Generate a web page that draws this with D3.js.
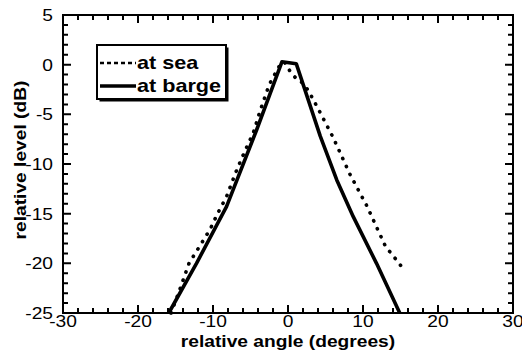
<!DOCTYPE html>
<html>
<head>
<meta charset="utf-8">
<script src="https://cdn.jsdelivr.net/npm/d3@7"></script>
<style>
  body { margin: 0; background: #fff; }
  svg { display: block; font-family: "Liberation Sans", Arial, Helvetica, sans-serif; }
</style>
</head>
<body>
<div id="chart-area"></div>
<script>
const SVG_WIDTH = 522;
const SVG_HEIGHT = 358;
const margin = { left: 63, right: 9, top: 15, bottom: 45 };
const W = SVG_WIDTH - margin.left - margin.right;
const H = SVG_HEIGHT - margin.top - margin.bottom;
const STRETCH = 1.2; // the type in the picture is drawn wide

// angle (degrees), level (dB)
const seaAngle = [-15.6, -14.6, -13.2, -11.8, -10.4, -9.4, -8.2, -7.0, -6.1, -4.6, -3.7, -2.5, -1.2, -0.5, 0.3, 1.2, 2.1, 3.0, 4.2, 6.0, 8.3, 10.5, 13.0, 14.5, 15.4];
const seaLevel = [-25, -23.0, -20.0, -18.3, -16.6, -15.0, -13.3, -10.9, -9.3, -6.8, -4.6, -2.0, -0.2, 0.3, -0.7, -1.5, -1.9, -3.0, -4.7, -7.3, -11.1, -14.2, -18.3, -19.7, -20.6];

const bargeAngle = [-15.9, -12.2, -8.2, -4.2, -0.8, 1.1, 4.3, 6.5, 8.7, 11.8, 14.9];
const bargeLevel = [-25, -20.0, -14.3, -6.6, 0.3, 0.1, -7.2, -11.6, -15.3, -20.0, -25];

const xTicks = [-30, -20, -10, 0, 10, 20, 30];
const yTicks = [5, 0, -5, -10, -15, -20, -25];
const xMinor = d3.range(-30, 31, 2);
const yMinor = d3.range(-25, 6, 1);
const legendNames = ["at sea", "at barge"];

const svg = d3.select("#chart-area").append("svg")
  .attr("width", SVG_WIDTH).attr("height", SVG_HEIGHT);

const x = d3.scaleLinear().domain([-30, 30]).range([margin.left, margin.left + W]);
const y = d3.scaleLinear().domain([-25, 5]).range([margin.top + H, margin.top]);

const line = d3.line().x(d => x(d[0])).y(d => y(d[1]));
const seaData = seaAngle.map((a, i) => [a, seaLevel[i]]);
const bargeData = bargeAngle.map((a, i) => [a, bargeLevel[i]]);

svg.append("path").datum(seaData).attr("d", line)
  .attr("fill", "none").attr("stroke", "#000").attr("stroke-width", 3.6)
  .attr("stroke-linecap", "round").attr("stroke-dasharray", "0.3,8.4");

svg.append("path").datum(bargeData).attr("d", line)
  .attr("fill", "none").attr("stroke", "#000").attr("stroke-width", 3.6)
  .attr("stroke-linejoin", "round");

// frame
const x0 = x(-30), x1 = x(30), y0 = y(-25), y1 = y(5);
svg.append("rect").attr("x", x0).attr("y", y1).attr("width", x1 - x0).attr("height", y0 - y1)
  .attr("fill", "none").attr("stroke", "#000").attr("stroke-width", 2);

// inward ticks on all four sides
function tickPath() {
  const p = d3.path();
  xMinor.forEach(v => {
    const len = xTicks.includes(v) ? 8 : 5;
    p.moveTo(x(v), y0); p.lineTo(x(v), y0 - len);
    p.moveTo(x(v), y1); p.lineTo(x(v), y1 + len);
  });
  yMinor.forEach(v => {
    const len = yTicks.includes(v) ? 8 : 5;
    p.moveTo(x0, y(v)); p.lineTo(x0 + len, y(v));
    p.moveTo(x1, y(v)); p.lineTo(x1 - len, y(v));
  });
  return p.toString();
}
svg.append("path").attr("d", tickPath())
  .attr("fill", "none").attr("stroke", "#000").attr("stroke-width", 2);

// tick labels
svg.append("g").selectAll("text").data(xTicks).join("text")
  .attr("transform", v => `translate(${x(v)},${y0 + 14}) scale(${STRETCH},1)`)
  .attr("text-anchor", "middle").attr("font-size", "16px")
  .text(v => v);
svg.append("g").selectAll("text").data(yTicks).join("text")
  .attr("transform", v => `translate(${x0 - 10},${y(v) + 6}) scale(${STRETCH},1)`)
  .attr("text-anchor", "end").attr("font-size", "16px")
  .text(v => v);

// axis titles
svg.append("text")
  .attr("transform", `translate(${(x0 + x1) / 2},${y0 + 34}) scale(${STRETCH},1)`)
  .attr("text-anchor", "middle").attr("font-size", "16px").attr("font-weight", "bold")
  .text("relative angle (degrees)");

svg.append("text")
  .attr("transform", `translate(26,${(y0 + y1) / 2 - 4}) rotate(-90) scale(${STRETCH},1)`)
  .attr("text-anchor", "middle").attr("font-size", "16px").attr("font-weight", "bold")
  .text("relative level (dB)");

// legend
const legend = svg.append("g").attr("transform", "translate(97,45)");
legend.append("rect").attr("x", 2.5).attr("y", 2.5).attr("width", 129).attr("height", 54).attr("fill", "#000");
legend.append("rect").attr("width", 129).attr("height", 54)
  .attr("fill", "#fff").attr("stroke", "#000").attr("stroke-width", 2);
legendNames.forEach((name, i) => {
  const row = legend.append("g").attr("transform", `translate(0,${18 + i * 23})`);
  row.append("line").attr("x1", 3).attr("x2", 39).attr("y1", 0).attr("y2", 0)
    .attr("stroke", "#000")
    .attr("stroke-width", i === 0 ? 2.6 : 3.4)
    .attr("stroke-dasharray", i === 0 ? "4,3" : null);
  row.append("text")
    .attr("transform", `translate(40,6) scale(${STRETCH},1)`)
    .attr("font-size", "18px").attr("font-weight", "bold")
    .text(name);
});
</script>
</body>
</html>
